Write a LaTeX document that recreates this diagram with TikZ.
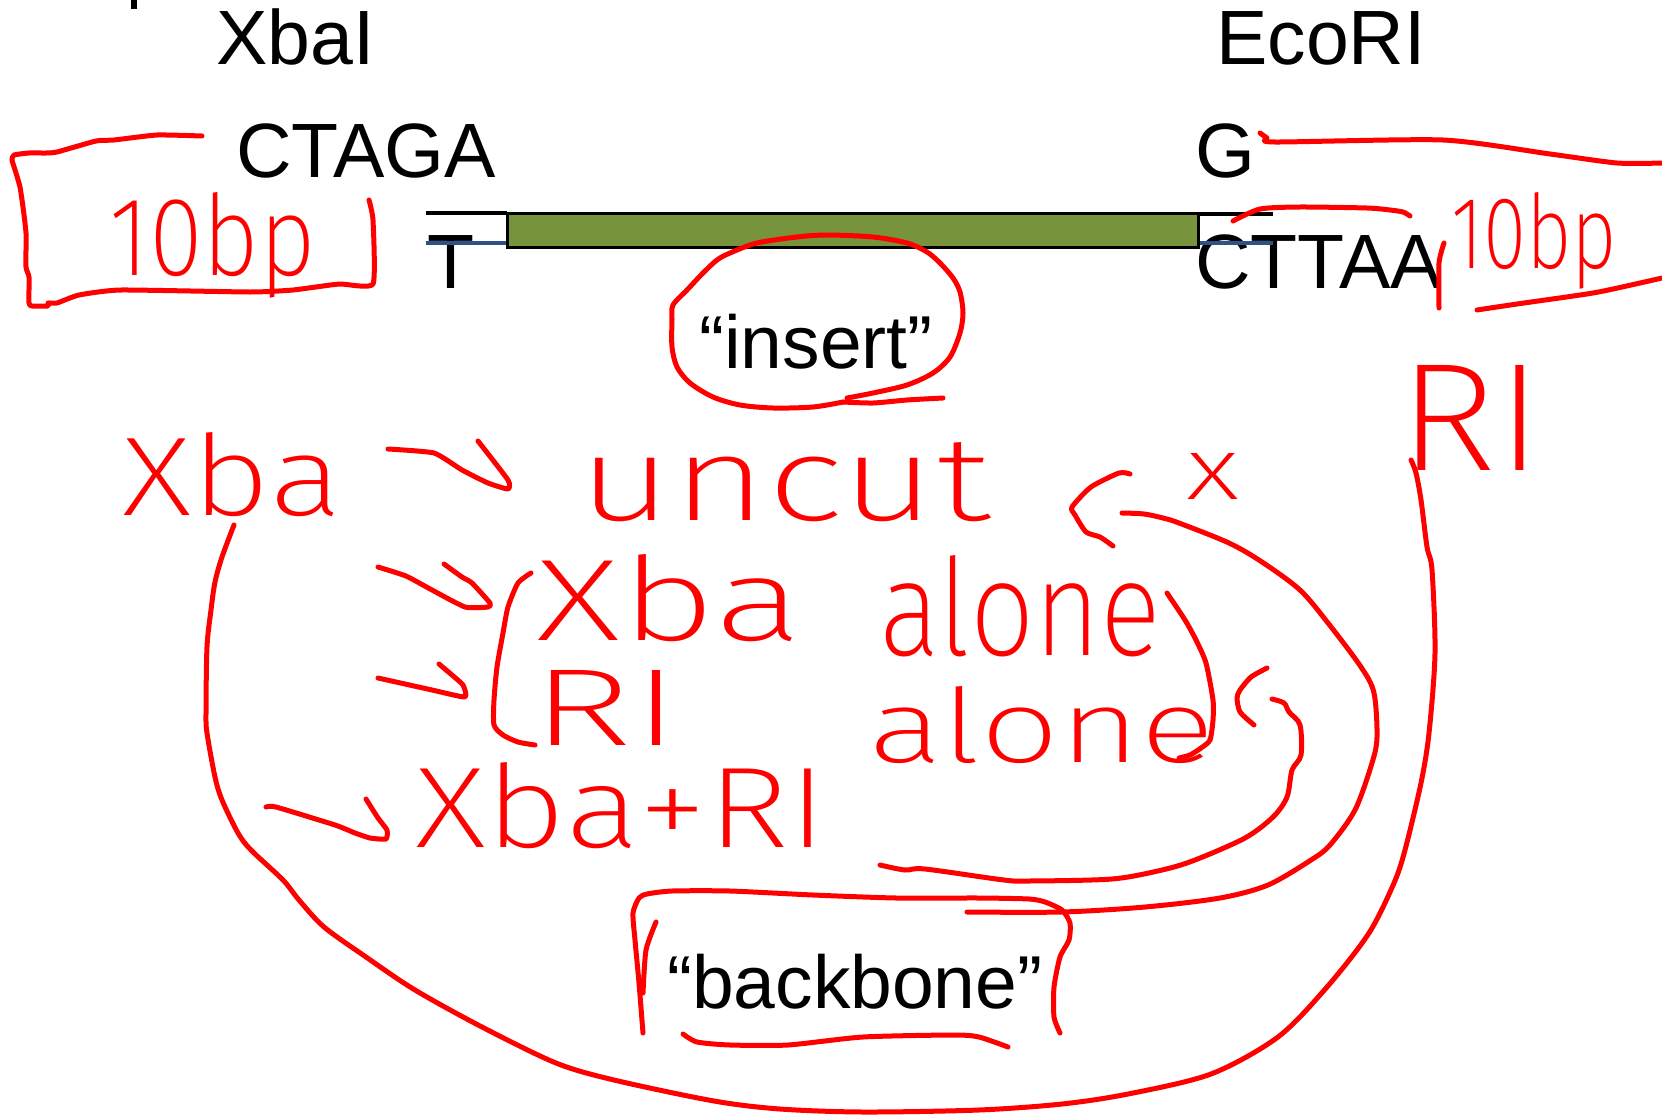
\documentclass[tikz,border=0pt]{standalone}
\usepackage{fontspec}
\usepackage{graphicx}
\setmainfont{Liberation Sans}
\newfontfamily\hand{Fira Sans ExtraLight}
\definecolor{insgreen}{RGB}{119,147,60}
\definecolor{strandblue}{RGB}{44,82,135}
\newcommand\hw[3]{\resizebox{#1pt}{#2pt}{\hand #3}}
\begin{document}
\begin{tikzpicture}[x=1pt, y=-1pt,
  slide/.style={font=\fontsize{77}{80}\selectfont, inner sep=0, anchor=base west, text=black},
  quote/.style={font=\fontsize{75}{78}\selectfont, inner sep=0, anchor=base west, text=black},
  handtxt/.style={inner sep=0, anchor=base west, text=red},
  ink/.style={red, line width=5pt, line cap=round, line join=round},
  strand/.style={line width=4pt}]
\useasboundingbox (0,0) rectangle (1662,1116);
\fill[white] (0,0) rectangle (1662,1116);
\fill[black] (131,0) rectangle (137,9);

% slide text
\node[slide] (xbai) at (216,65) {XbaI};
\node[slide] (ecori) at (1216,65) {EcoRI};
\node[slide] (ctaga) at (236,177) {CTAGA};
\node[slide] (g) at (1195,177) {G};
\node[slide] (t) at (427,288) {T};
\node[slide] (cttaa) at (1195,288) {CTTAA};
\node[quote] (insert) at (699,368) {“insert”};
\node[quote] (backbone) at (667,1008) {“backbone”};

% DNA strands and insert bar
\draw[strand, black] (426,213) -- (507,213);
\draw[strand, strandblue] (426,243) -- (507,243);
\draw[strand, black] (1198,214) -- (1273,214);
\draw[strand, strandblue] (1198,243) -- (1273,243);
\node[draw=black, fill=insgreen, line width=3pt, minimum width=691pt, minimum height=34pt, inner sep=0] (bar) at (852.5,230) {};

% handwritten words
\node[handtxt] (bpl) at (109,275) {\hw{207}{83}{10bp}};
\node[handtxt] (bpr) at (1451,268) {\hw{166}{76}{10bp}};
\node[handtxt] (xba1) at (122,515) {\hw{220}{83}{Xba}};
\node[handtxt] (uncut) at (578,520) {\hw{412}{78}{uncut}};
\node[handtxt] (cross) at (1186,499) {\hw{53}{46}{x}};
\node[handtxt] (xba2) at (536,640) {\hw{266}{86}{Xba}};
\node[handtxt] (alone1) at (879,655) {\hw{282}{100}{alone}};
\node[handtxt] (ri3) at (531,745) {\hw{149}{75}{RI}};
\node[handtxt] (alone2) at (868,762) {\hw{347}{76}{alone}};
\node[handtxt] (xbari) at (415,847) {\hw{412}{85}{Xba+RI}};
\node[handtxt] (ritop) at (1398,470) {\hw{145}{105}{RI}};

% left bracket around 10bp
\draw[ink] plot[smooth, tension=0.3] coordinates {(202,136) (157,135) (114,140) (96,141) (57,152) (46,153) (29,153) (14,155) (12,160) (16,173) (20,187) (23,207) (26,233) (26,267) (29,277) (29,303) (32,306) (48,306) (48,303) (57,303) (79,295) (121,290) (250,292) (293,290) (339,284) (373,284) (373,220) (369,200)};

% right side strokes
\draw[ink] plot[smooth, tension=0.4] coordinates {(1260,133) (1267,138) (1275,142) (1443,140) (1550,154) (1617,163) (1662,163)};
\draw[ink] plot[smooth, tension=0.4] coordinates {(1233,221) (1260,209) (1300,207) (1367,208) (1390,210) (1403,212) (1410,216)};
\draw[ink] plot[smooth, tension=0.4] coordinates {(1444,243) (1439,263) (1439,308)};
\draw[ink] plot[smooth, tension=0.4] coordinates {(1477,310) (1517,304) (1593,293) (1640,283) (1662,278)};

% circle round insert
\draw[ink] plot[smooth, tension=0.5] coordinates {(847,398) (873,393) (907,385) (933,373) (950,357) (960,333) (963,313) (960,292) (953,278) (940,263) (927,252) (907,243) (873,237) (827,235) (797,237) (757,243) (730,253) (717,260) (703,273) (687,290) (673,305) (672,320) (672,347) (677,367) (690,383) (713,397) (740,405) (773,408) (813,407) (843,402)};
\draw[ink] plot[smooth, tension=0.4] coordinates {(843,402) (873,403) (907,400) (943,398)};

% hand arrows
\draw[ink] plot[smooth, tension=0.3] coordinates {(388,449) (434,453) (462,470) (488,483) (508,489) (508,480) (478,441)};
\draw[ink] plot[smooth, tension=0.3] coordinates {(378,567) (406,576) (432,590) (465,607) (488,607) (490,603) (472,583) (462,577) (444,564)};
\draw[ink] plot[smooth, tension=0.3] coordinates {(378,678) (432,690) (465,697) (463,685) (452,675) (439,664)};
\draw[ink] plot[smooth, tension=0.3] coordinates {(266,807) (276,807) (335,825) (355,833) (370,838) (386,839) (387,830) (378,818) (366,799)};

% brackets
\draw[ink] plot[smooth, tension=0.4] coordinates {(531,573) (518,583) (508,607) (503,633) (497,667) (494,700) (494,725) (503,735) (518,742) (535,745)};
\draw[ink] plot[smooth, tension=0.4] coordinates {(1167,593) (1185,620) (1196,640) (1206,663) (1213,700) (1213,720) (1210,740) (1201,748) (1190,755) (1179,758)};

% middle curve with head
\draw[ink] plot[smooth, tension=0.4] coordinates {(1130,474) (1119,473) (1091,487) (1072,507) (1075,515) (1086,532) (1100,537) (1113,546)};
\draw[ink] plot[smooth, tension=0.5] coordinates {(1122,513) (1144,514) (1163,518) (1179,523) (1229,543) (1262,562) (1300,590) (1328,623) (1361,667) (1374,693) (1377,737) (1372,763) (1355,810) (1330,845) (1311,860) (1268,885) (1220,898) (1145,907) (1062,912) (967,912)};

% inner curve with head
\draw[ink] plot[smooth, tension=0.4] coordinates {(1254,725) (1240,712) (1237,698) (1240,690) (1251,677) (1267,668)};
\draw[ink] plot[smooth, tension=0.5] coordinates {(1272,699) (1284,703) (1289,712) (1300,725) (1301,755) (1292,770) (1287,797) (1273,817) (1245,838) (1195,860) (1162,870) (1112,879) (1029,881) (1004,880) (925,869) (905,870) (880,865)};

% big loop
\draw[ink] plot[smooth, tension=0.5] coordinates {(234,525) (222,557) (215,582) (211,610) (207,647) (206,713) (207,733) (215,777) (222,800) (238,833) (251,850) (283,880) (299,900) (324,927) (366,957) (415,990) (482,1027) (556,1063) (614,1080) (714,1101) (780,1109) (863,1112) (979,1110) (1062,1104) (1128,1094) (1211,1074) (1278,1037) (1327,987) (1369,933) (1394,883) (1405,850) (1421,783) (1429,733) (1435,653) (1432,570) (1427,547) (1421,500) (1416,473) (1411,460)};

% box round backbone
\draw[ink] plot[smooth, tension=0.4] coordinates {(643,1033) (639,983) (635,940) (633,913) (639,898) (647,894) (672,891) (730,891) (813,895) (896,898) (979,898) (1029,899) (1045,902) (1062,910) (1070,923) (1069,940) (1060,957) (1054,987) (1054,1017) (1060,1033)};
\draw[ink] plot[smooth, tension=0.4] coordinates {(656,922) (646,950) (643,993)};
\draw[ink] plot[smooth, tension=0.4] coordinates {(683,1034) (697,1042) (730,1045) (788,1045) (863,1037) (954,1035) (979,1037) (1008,1047)};
\end{tikzpicture}
\end{document}
